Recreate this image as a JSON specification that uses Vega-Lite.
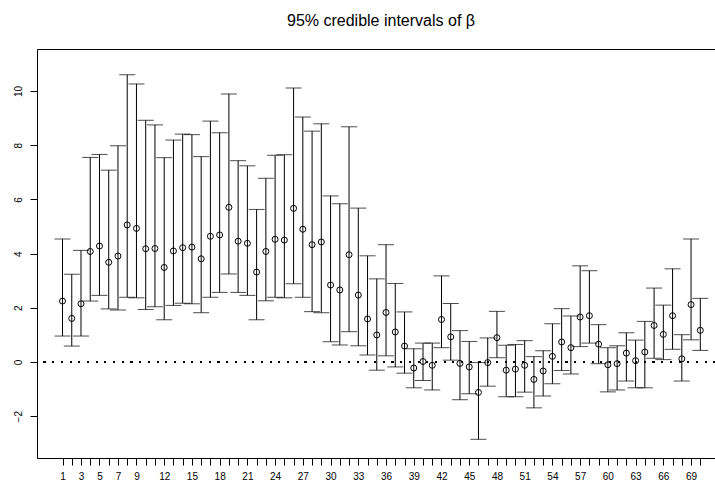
{
  "$schema": "https://vega.github.io/schema/vega-lite/v6.json",
  "width": 678,
  "height": 409,
  "autosize": {"type": "none"},
  "padding": {"left": 37, "top": 49, "right": 0, "bottom": 27},
  "background": "white",
  "title": {
    "text": "95% credible intervals of β",
    "font": "Liberation Sans",
    "fontSize": 16,
    "fontWeight": "normal",
    "color": "black",
    "anchor": "middle",
    "frame": "group",
    "baseline": "alphabetic",
    "offset": 7,
    "dx": 5
  },
  "data": {
    "values": [
      {"i": 1, "lo": 0.96, "med": 2.25, "hi": 4.54},
      {"i": 2, "lo": 0.59, "med": 1.61, "hi": 3.24},
      {"i": 3, "lo": 0.96, "med": 2.15, "hi": 4.12},
      {"i": 4, "lo": 2.25, "med": 4.08, "hi": 7.55},
      {"i": 5, "lo": 2.46, "med": 4.28, "hi": 7.66},
      {"i": 6, "lo": 1.96, "med": 3.68, "hi": 7.08},
      {"i": 7, "lo": 1.92, "med": 3.91, "hi": 7.98},
      {"i": 8, "lo": 2.39, "med": 5.06, "hi": 10.6},
      {"i": 9, "lo": 2.37, "med": 4.93, "hi": 10.26},
      {"i": 10, "lo": 1.94, "med": 4.18, "hi": 8.92},
      {"i": 11, "lo": 2.04, "med": 4.19, "hi": 8.75},
      {"i": 12, "lo": 1.56, "med": 3.49, "hi": 7.54},
      {"i": 13, "lo": 2.09, "med": 4.1, "hi": 8.19},
      {"i": 14, "lo": 2.17, "med": 4.22, "hi": 8.41},
      {"i": 15, "lo": 2.15, "med": 4.24, "hi": 8.39},
      {"i": 16, "lo": 1.82, "med": 3.81, "hi": 7.58},
      {"i": 17, "lo": 2.39, "med": 4.64, "hi": 8.89},
      {"i": 18, "lo": 2.57, "med": 4.69, "hi": 8.46},
      {"i": 19, "lo": 3.25, "med": 5.71, "hi": 9.89},
      {"i": 20, "lo": 2.57, "med": 4.46, "hi": 7.43},
      {"i": 21, "lo": 2.46, "med": 4.38, "hi": 7.24},
      {"i": 22, "lo": 1.56, "med": 3.32, "hi": 5.63},
      {"i": 23, "lo": 2.26, "med": 4.08, "hi": 6.78},
      {"i": 24, "lo": 2.39, "med": 4.53, "hi": 7.63},
      {"i": 25, "lo": 2.37, "med": 4.5, "hi": 7.65},
      {"i": 26, "lo": 2.89, "med": 5.67, "hi": 10.11},
      {"i": 27, "lo": 2.39, "med": 4.9, "hi": 9.04},
      {"i": 28, "lo": 1.86, "med": 4.33, "hi": 8.52},
      {"i": 29, "lo": 1.82, "med": 4.43, "hi": 8.79},
      {"i": 30, "lo": 0.75, "med": 2.84, "hi": 6.13},
      {"i": 31, "lo": 0.63, "med": 2.66, "hi": 5.84},
      {"i": 32, "lo": 1.12, "med": 3.96, "hi": 8.68},
      {"i": 33, "lo": 0.6, "med": 2.47, "hi": 5.68},
      {"i": 34, "lo": 0.26, "med": 1.59, "hi": 3.92},
      {"i": 35, "lo": -0.3, "med": 1.0, "hi": 3.07},
      {"i": 36, "lo": 0.23, "med": 1.83, "hi": 4.33},
      {"i": 37, "lo": -0.18, "med": 1.11, "hi": 2.9},
      {"i": 38, "lo": -0.41, "med": 0.59, "hi": 1.85},
      {"i": 39, "lo": -0.95, "med": -0.22, "hi": 0.49},
      {"i": 40, "lo": -0.68, "med": 0.02, "hi": 0.7},
      {"i": 41, "lo": -1.03, "med": -0.12, "hi": 0.7},
      {"i": 42, "lo": 0.53, "med": 1.57, "hi": 3.18},
      {"i": 43, "lo": 0.07, "med": 0.93, "hi": 2.16},
      {"i": 44, "lo": -1.39, "med": -0.05, "hi": 1.16},
      {"i": 45, "lo": -1.17, "med": -0.18, "hi": 0.76},
      {"i": 46, "lo": -2.85, "med": -1.12, "hi": -0.02},
      {"i": 47, "lo": -0.89, "med": -0.02, "hi": 0.89},
      {"i": 48, "lo": 0.16, "med": 0.9, "hi": 1.87},
      {"i": 49, "lo": -1.28, "med": -0.3, "hi": 0.62},
      {"i": 50, "lo": -1.28, "med": -0.26, "hi": 0.65},
      {"i": 51, "lo": -1.11, "med": -0.12, "hi": 0.79},
      {"i": 52, "lo": -1.69, "med": -0.64, "hi": 0.2},
      {"i": 53, "lo": -1.25, "med": -0.33, "hi": 0.42},
      {"i": 54, "lo": -0.8, "med": 0.21, "hi": 1.41},
      {"i": 55, "lo": -0.31, "med": 0.74, "hi": 1.97},
      {"i": 56, "lo": -0.44, "med": 0.53, "hi": 1.7},
      {"i": 57, "lo": 0.57, "med": 1.66, "hi": 3.55},
      {"i": 58, "lo": 0.7, "med": 1.71, "hi": 3.37},
      {"i": 59, "lo": -0.06, "med": 0.66, "hi": 1.38},
      {"i": 60, "lo": -1.1, "med": -0.1, "hi": 0.53},
      {"i": 61, "lo": -1.03, "med": -0.06, "hi": 0.6},
      {"i": 62, "lo": -0.7, "med": 0.33, "hi": 1.08},
      {"i": 63, "lo": -0.95, "med": 0.05, "hi": 0.81},
      {"i": 64, "lo": -0.95, "med": 0.37, "hi": 1.5},
      {"i": 65, "lo": 0.14, "med": 1.35, "hi": 2.73},
      {"i": 66, "lo": 0.09, "med": 1.02, "hi": 2.1},
      {"i": 67, "lo": 0.47, "med": 1.71, "hi": 3.44},
      {"i": 68, "lo": -0.7, "med": 0.12, "hi": 1.01},
      {"i": 69, "lo": 0.82, "med": 2.12, "hi": 4.54},
      {"i": 70, "lo": 0.43, "med": 1.17, "hi": 2.35}
    ]
  },
  "layer": [
    {
      "mark": {"type": "rule", "color": "black", "strokeWidth": 1.2, "strokeDash": [1.2, 7.5]},
      "encoding": {
        "y": {"datum": 0, "type": "quantitative", "scale": {"domain": [-3.54, 11.55], "nice": false, "zero": false}, "title": null}
      }
    },
    {
      "mark": {"type": "rule", "color": "black", "strokeWidth": 1},
      "encoding": {
        "x": {
          "field": "i", "type": "quantitative",
          "scale": {"domain": [-1.76, 71.59], "nice": false, "zero": false},
          "title": null,
          "axis": {
            "orient": "bottom",
            "values": [1,2,3,4,5,6,7,8,9,10,11,12,13,14,15,16,17,18,19,20,21,22,23,24,25,26,27,28,29,30,31,32,33,34,35,36,37,38,39,40,41,42,43,44,45,46,47,48,49,50,51,52,53,54,55,56,57,58,59,60,61,62,63,64,65,66,67,68,69,70],
            "labelExpr": "indexof([1,3,5,7,9,12,15,18,21,24,27,30,33,36,39,42,45,48,51,54,57,60,63,66,69], datum.value) >= 0 ? datum.label : ''",
            "labelOverlap": false,
            "labelFlush": false,
            "tickSize": 7,
            "labelPadding": 6,
            "grid": false
          }
        },
        "y": {
          "field": "lo", "type": "quantitative",
          "scale": {"domain": [-3.54, 11.55], "nice": false, "zero": false},
          "title": null,
          "axis": {
            "orient": "left",
            "values": [-2, 0, 2, 4, 6, 8, 10],
            "labelAngle": 270,
            "labelAlign": "center",
            "labelBaseline": "alphabetic",
            "tickSize": 7,
            "labelPadding": 9,
            "grid": false
          }
        },
        "y2": {"field": "hi"}
      }
    },
    {
      "mark": {"type": "tick", "orient": "horizontal", "color": "black", "size": 16, "thickness": 1},
      "encoding": {
        "x": {"field": "i", "type": "quantitative", "axis": null},
        "y": {"field": "lo", "type": "quantitative", "title": null}
      }
    },
    {
      "mark": {"type": "tick", "orient": "horizontal", "color": "black", "size": 16, "thickness": 1},
      "encoding": {
        "x": {"field": "i", "type": "quantitative", "axis": null},
        "y": {"field": "hi", "type": "quantitative", "title": null}
      }
    },
    {
      "mark": {"type": "point", "shape": "circle", "filled": false, "color": "black", "size": 36, "strokeWidth": 1, "opacity": 1},
      "encoding": {
        "x": {
          "field": "i", "type": "quantitative", "title": null,
          "axis": {"orient": "top", "ticks": false, "labels": false, "domain": true, "grid": false}
        },
        "y": {"field": "med", "type": "quantitative", "title": null}
      }
    }
  ],
  "resolve": {"axis": {"x": "independent"}},
  "config": {
    "view": {"stroke": null},
    "axis": {
      "domainColor": "black",
      "domainWidth": 1,
      "tickColor": "black",
      "tickWidth": 1,
      "labelColor": "black",
      "labelFont": "Liberation Sans",
      "labelFontSize": 10
    }
  }
}
